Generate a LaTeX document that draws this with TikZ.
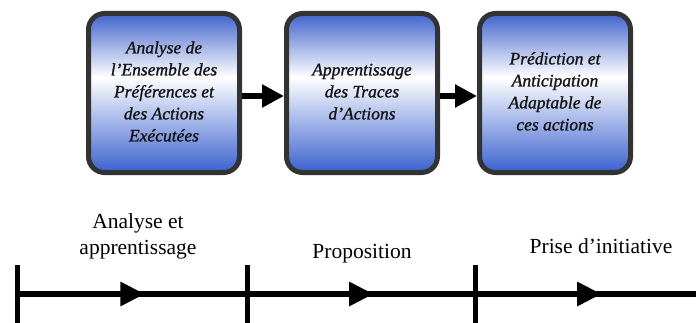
\documentclass[tikz,border=0pt]{standalone}
\usepackage{fontspec}
\setmainfont{Liberation Serif}
% heavier italic for the stage captions
\newfontface\stagefont{Liberation Serif Italic}[FakeBold=1.2]
\usetikzlibrary{arrows.meta,decorations.markings}

\definecolor{boxrim}{RGB}{51,51,51}
\definecolor{captionink}{RGB}{20,20,20}
% blue at top and bottom, fading to white a little above the middle
\pgfdeclareverticalshading{stageshade}{100bp}{%
  rgb(0bp)=(0.23,0.38,0.81); rgb(25bp)=(0.23,0.38,0.81);
  rgb(55bp)=(1,1,1);
  rgb(75bp)=(0.25,0.39,0.80); rgb(100bp)=(0.25,0.39,0.80)}

\newcommand{\stagetext}[2][0pt]{\raisebox{#1}{\begin{tabular}{@{}c@{}}#2\end{tabular}}}

\tikzset{
  stage/.style={draw=boxrim, line width=5pt, rounded corners=16pt,
    shade, shading=stageshade, minimum width=151pt, minimum height=159pt,
    inner sep=0pt, text=captionink, font=\stagefont\fontsize{17.5}{22}\selectfont},
  flow/.style={line width=6pt, -{Triangle[length=22pt,width=22pt]}},
  tick/.style={line width=5pt},
  timeseg/.style={line width=6pt,
    decoration={markings, mark=at position 0.5 with
      {\fill (-12pt,-12.5pt) -- (12pt,0pt) -- (-12pt,12.5pt) -- cycle;}},
    postaction={decorate}},
  phase/.style={font=\fontsize{21.5}{26}\selectfont, inner sep=0pt}
}

\begin{document}
\begin{tikzpicture}[x=1pt,y=1pt]
\useasboundingbox (0,0) rectangle (696,322);

% processing stages
\node[stage] (b1) at (164,229) {\stagetext{Analyse de\\l’Ensemble des\\Préférences et\\des Actions\\Exécutées}};
\node[stage] (b2) at (362,229) {\stagetext[6pt]{Apprentissage\\des Traces\\d’Actions}};
\node[stage] (b3) at (555,229) {\stagetext[-2pt]{Prédiction et\\Anticipation\\Adaptable de\\ces actions}};

\draw[flow] ([yshift=-3pt]b1.east) -- ([yshift=-3pt]b2.west);
\draw[flow] ([yshift=-3pt]b2.east) -- ([yshift=-3pt]b3.west);

% time line
\coordinate (t0) at (17.5,28);
\coordinate (t1) at (247,28);
\coordinate (t2) at (475,28);
\coordinate (tend) at (703,28);
\coordinate (t0up) at (17.5,57);  \coordinate (t0dn) at (17.5,-6);
\coordinate (t1up) at (247,57);   \coordinate (t1dn) at (247,-6);
\coordinate (t2up) at (475,57);   \coordinate (t2dn) at (475,-6);

\draw[timeseg] (t0) -- (t1);
\draw[timeseg] (t1) -- (t2);
\draw[timeseg] (t2) -- (tend);
\draw[tick] (t0up) -- (t0dn);
\draw[tick] (t1up) -- (t1dn);
\draw[tick] (t2up) -- (t2dn);

\node[phase, align=center] (p1) at (138,86) {Analyse et\\apprentissage};
\node[phase, anchor=base] (p2) at (362,64) {Proposition};
\node[phase, anchor=base] (p3) at (601,69) {Prise d’initiative};
\end{tikzpicture}
\end{document}
